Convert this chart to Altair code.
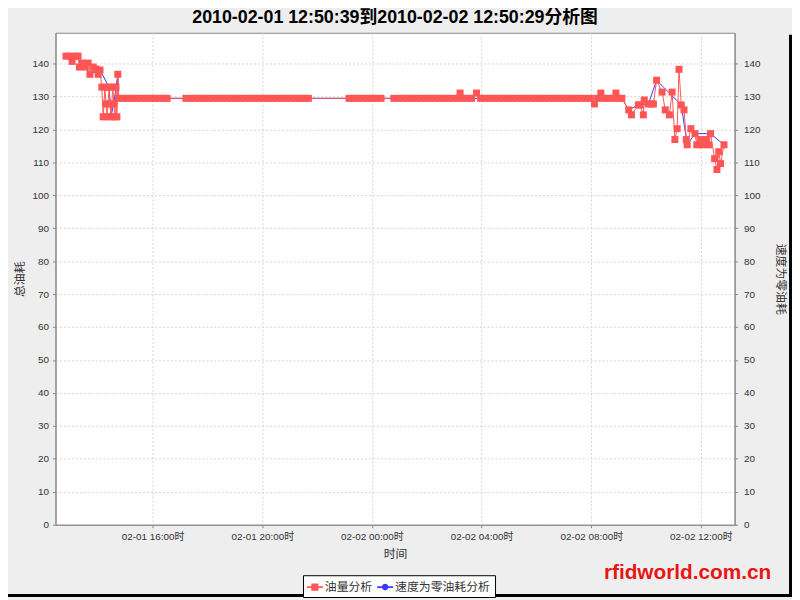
import altair as alt
import pandas as pd

TITLE = "2010-02-01 12:50:39到2010-02-02 12:50:29分析图"
SERIES = ["油量分析", "速度为零油耗分析"]
COLORS = ["#FF5555", "#3A3AFF"]
WATERMARK = "rfidworld.com.cn"

# ---- series 1: 油量分析 (time, value) ----
oil_time = [
    "2010-02-01T12:50:39", "2010-02-01T12:58:00", "2010-02-01T13:04:00", "2010-02-01T13:11:00",
    "2010-02-01T13:17:00", "2010-02-01T13:20:00", "2010-02-01T13:26:00", "2010-02-01T13:33:00",
    "2010-02-01T13:39:00", "2010-02-01T13:43:00", "2010-02-01T13:50:00", "2010-02-01T13:56:00",
    "2010-02-01T14:01:00", "2010-02-01T14:05:00", "2010-02-01T14:09:00", "2010-02-01T14:12:00",
    "2010-02-01T14:16:00", "2010-02-01T14:18:00", "2010-02-01T14:20:00", "2010-02-01T14:25:00",
    "2010-02-01T14:27:00", "2010-02-01T14:29:00", "2010-02-01T14:33:00", "2010-02-01T14:35:00",
    "2010-02-01T14:38:00", "2010-02-01T14:40:00", "2010-02-01T14:42:00", "2010-02-01T14:44:00",
    "2010-02-01T14:46:00", "2010-02-01T14:56:00", "2010-02-01T15:06:00", "2010-02-01T15:16:00",
    "2010-02-01T15:26:00", "2010-02-01T15:36:00", "2010-02-01T15:46:00", "2010-02-01T15:56:00",
    "2010-02-01T16:06:00", "2010-02-01T16:16:00", "2010-02-01T16:26:00", "2010-02-01T16:32:00",
    "2010-02-01T17:13:00", "2010-02-01T17:23:00", "2010-02-01T17:33:00", "2010-02-01T17:43:00",
    "2010-02-01T17:53:00", "2010-02-01T18:03:00", "2010-02-01T18:13:00", "2010-02-01T18:23:00",
    "2010-02-01T18:33:00", "2010-02-01T18:43:00", "2010-02-01T18:53:00", "2010-02-01T19:03:00",
    "2010-02-01T19:13:00", "2010-02-01T19:23:00", "2010-02-01T19:33:00", "2010-02-01T19:43:00",
    "2010-02-01T19:53:00", "2010-02-01T20:03:00", "2010-02-01T20:13:00", "2010-02-01T20:23:00",
    "2010-02-01T20:33:00", "2010-02-01T20:43:00", "2010-02-01T20:53:00", "2010-02-01T21:03:00",
    "2010-02-01T21:13:00", "2010-02-01T21:23:00", "2010-02-01T21:33:00", "2010-02-01T21:41:00",
    "2010-02-01T23:10:00", "2010-02-01T23:20:00", "2010-02-01T23:30:00", "2010-02-01T23:40:00",
    "2010-02-01T23:50:00", "2010-02-02T00:00:00", "2010-02-02T00:10:00", "2010-02-02T00:20:00",
    "2010-02-02T00:48:00", "2010-02-02T00:58:00", "2010-02-02T01:08:00", "2010-02-02T01:18:00",
    "2010-02-02T01:28:00", "2010-02-02T01:38:00", "2010-02-02T01:48:00", "2010-02-02T01:58:00",
    "2010-02-02T02:08:00", "2010-02-02T02:18:00", "2010-02-02T02:28:00", "2010-02-02T02:38:00",
    "2010-02-02T02:48:00", "2010-02-02T02:58:00", "2010-02-02T03:08:00", "2010-02-02T03:13:00",
    "2010-02-02T03:18:00", "2010-02-02T03:28:00", "2010-02-02T03:38:00", "2010-02-02T03:49:00",
    "2010-02-02T03:58:00", "2010-02-02T04:08:00", "2010-02-02T04:18:00", "2010-02-02T04:28:00",
    "2010-02-02T04:38:00", "2010-02-02T04:48:00", "2010-02-02T04:58:00", "2010-02-02T05:08:00",
    "2010-02-02T05:18:00", "2010-02-02T05:28:00", "2010-02-02T05:38:00", "2010-02-02T05:48:00",
    "2010-02-02T05:58:00", "2010-02-02T06:08:00", "2010-02-02T06:18:00", "2010-02-02T06:28:00",
    "2010-02-02T06:38:00", "2010-02-02T06:48:00", "2010-02-02T06:58:00", "2010-02-02T07:08:00",
    "2010-02-02T07:18:00", "2010-02-02T07:28:00", "2010-02-02T07:38:00", "2010-02-02T07:48:00",
    "2010-02-02T07:58:00", "2010-02-02T08:07:00", "2010-02-02T08:14:00", "2010-02-02T08:21:00",
    "2010-02-02T08:28:00", "2010-02-02T08:38:00", "2010-02-02T08:48:00", "2010-02-02T08:54:00",
    "2010-02-02T09:00:00", "2010-02-02T09:07:00", "2010-02-02T09:22:00", "2010-02-02T09:28:00",
    "2010-02-02T09:43:00", "2010-02-02T09:47:00", "2010-02-02T09:54:00", "2010-02-02T09:56:00",
    "2010-02-02T10:05:00", "2010-02-02T10:12:00", "2010-02-02T10:16:00", "2010-02-02T10:23:00",
    "2010-02-02T10:35:00", "2010-02-02T10:42:00", "2010-02-02T10:51:00", "2010-02-02T10:57:00",
    "2010-02-02T11:03:00", "2010-02-02T11:08:00", "2010-02-02T11:12:00", "2010-02-02T11:17:00",
    "2010-02-02T11:23:00", "2010-02-02T11:28:00", "2010-02-02T11:30:00", "2010-02-02T11:38:00",
    "2010-02-02T11:47:00", "2010-02-02T11:51:00", "2010-02-02T11:58:00", "2010-02-02T12:04:00",
    "2010-02-02T12:11:00", "2010-02-02T12:17:00", "2010-02-02T12:21:00", "2010-02-02T12:30:00",
    "2010-02-02T12:35:00", "2010-02-02T12:39:00", "2010-02-02T12:43:00", "2010-02-02T12:50:29",
]
oil_value = [
    142.2, 142.2, 140.6, 142.2, 142.2, 138.9, 140.1, 138.9,
    140.1, 136.7, 138.9, 138.3, 136.7, 138.0, 132.8, 123.8,
    132.8, 127.7, 123.8, 132.8, 127.7, 123.8, 132.8, 127.7,
    123.8, 132.8, 123.8, 136.7,
    129.4, 129.4, 129.4, 129.4, 129.4, 129.4, 129.4, 129.4,
    129.4, 129.4, 129.4, 129.4,
    129.4, 129.4, 129.4, 129.4, 129.4, 129.4, 129.4, 129.4,
    129.4, 129.4, 129.4, 129.4, 129.4, 129.4, 129.4, 129.4,
    129.4, 129.4, 129.4, 129.4, 129.4, 129.4, 129.4, 129.4,
    129.4, 129.4, 129.4, 129.4,
    129.4, 129.4, 129.4, 129.4, 129.4, 129.4, 129.4, 129.4,
    129.4, 129.4, 129.4, 129.4, 129.4, 129.4, 129.4, 129.4,
    129.4, 129.4, 129.4, 129.4, 129.4, 129.4, 129.4, 131.0,
    129.4, 129.4, 129.4, 131.0, 129.4, 129.4, 129.4, 129.4,
    129.4, 129.4, 129.4, 129.4, 129.4, 129.4, 129.4, 129.4,
    129.4, 129.4, 129.4, 129.4, 129.4, 129.4, 129.4, 129.4,
    129.4, 129.4, 129.4, 129.4, 129.4, 127.7, 129.4, 131.0,
    129.4, 129.4, 129.4, 131.0, 129.4, 129.4, 125.9, 124.4,
    127.4, 127.4, 124.4, 128.9, 127.7, 127.7, 127.7, 134.9,
    131.3, 125.9, 124.4, 131.3, 116.9, 120.2, 138.2, 127.4,
    125.9, 116.9, 115.3, 120.2, 118.7, 115.3, 116.9, 115.3,
    116.9, 115.3, 118.7, 111.1, 107.8, 113.2, 109.6, 115.3,
]

# ---- series 2: 速度为零油耗分析 (time, value) ----
zero_time = [
    "2010-02-01T12:50:39", "2010-02-01T13:17:00", "2010-02-01T13:43:00", "2010-02-01T14:05:00",
    "2010-02-01T14:25:00", "2010-02-01T14:29:00", "2010-02-01T14:35:00", "2010-02-01T14:44:00",
    "2010-02-01T14:46:00", "2010-02-01T15:26:00", "2010-02-01T16:06:00", "2010-02-01T16:32:00",
    "2010-02-01T17:13:00", "2010-02-01T18:13:00", "2010-02-01T19:13:00", "2010-02-01T20:13:00",
    "2010-02-01T21:13:00", "2010-02-01T21:41:00", "2010-02-01T23:10:00", "2010-02-02T00:00:00",
    "2010-02-02T00:20:00", "2010-02-02T00:48:00", "2010-02-02T02:08:00", "2010-02-02T03:28:00",
    "2010-02-02T04:48:00", "2010-02-02T06:08:00", "2010-02-02T07:28:00", "2010-02-02T08:38:00",
    "2010-02-02T09:07:00", "2010-02-02T09:22:00", "2010-02-02T09:43:00", "2010-02-02T10:05:00",
    "2010-02-02T10:23:00", "2010-02-02T11:17:00", "2010-02-02T11:30:00", "2010-02-02T11:47:00",
    "2010-02-02T12:21:00", "2010-02-02T12:50:29",
]
zero_value = [
    142.2, 142.2, 136.7, 138.0, 132.8, 123.8, 127.7, 136.7,
    129.4, 129.4, 129.4, 129.4, 129.4, 129.4, 129.4, 129.4,
    129.4, 129.4, 129.4, 129.4, 129.4, 129.4, 129.4, 129.4,
    129.4, 129.4, 129.4, 129.4, 129.4, 125.9, 127.4, 127.7,
    134.9, 127.4, 115.3, 118.7, 118.7, 115.3,
]

y_ticks = [0, 10, 20, 30, 40, 50, 60, 70, 80, 90, 100, 110, 120, 130, 140]
x_ticks = ["2010-02-01 16:00", "2010-02-01 20:00", "2010-02-02 00:00",
           "2010-02-02 04:00", "2010-02-02 08:00", "2010-02-02 12:00"]
x_domain = ["2010-02-01 12:27:40", "2010-02-02 13:13:40"]
y_domain = [0, 149.3]


def dt(s):
    t = pd.Timestamp(s)
    return alt.DateTime(year=t.year, month=t.month, date=t.day,
                        hours=t.hour, minutes=t.minute, seconds=t.second)


oil = pd.DataFrame({"t": oil_time, "v": oil_value, "s": SERIES[0]})
zero = pd.DataFrame({"t": zero_time, "v": zero_value, "s": SERIES[1]})
legend_df = pd.DataFrame({"t": ["2010-01-01T00:00:00"] * 2, "v": [50, 50], "s": SERIES})
mark_df = pd.DataFrame({"w": [WATERMARK]})
frame_df = pd.DataFrame({"k": [0]})

LAT = "Liberation Sans, Arial, Noto Sans CJK SC, sans-serif"
CJK = "Noto Sans CJK SC, Liberation Sans, sans-serif"

x_enc = alt.X(
    "t:T",
    scale=alt.Scale(domain=[dt(d) for d in x_domain]),
    axis=alt.Axis(values=[dt(d) for d in x_ticks], format="%m-%d %H:%M时",
                  formatType="time", title="时间", labelFont=LAT, labelFontSize=10,
                  tickSize=3, labelPadding=4, titlePadding=7, labelFlush=False,
                  labelOverlap=False, titleFont=CJK),
)
y_left = alt.Y(
    "v:Q",
    scale=alt.Scale(domain=y_domain, nice=False, zero=True),
    axis=alt.Axis(values=y_ticks, orient="left", title="总油耗", labelFontSize=10,
                  tickSize=3, labelPadding=4, titlePadding=6, titleFont=CJK),
)
y_right = alt.Y(
    "v:Q",
    scale=alt.Scale(domain=y_domain, nice=False, zero=True),
    axis=alt.Axis(values=y_ticks, orient="right", title="速度为零油耗", labelFontSize=10,
                  tickSize=3, labelPadding=6, titlePadding=14, grid=False,
                  titleAngle=90, titleFont=CJK),
)

SQ_PATH = "M-1,-0.1H1V0.1H-1Z M-0.45,-0.45H0.45V0.45H-0.45Z"
CI_PATH = "M-1,-0.1H1V0.1H-1Z M-0.42,0A0.42,0.42 0 1,1 0.42,0A0.42,0.42 0 1,1 -0.42,0Z"

zero_line = alt.Chart(zero).mark_line(color=COLORS[1], strokeWidth=1).encode(x=x_enc, y=y_left)
oil_line = alt.Chart(oil).mark_line(color=COLORS[0], strokeWidth=1).encode(x=x_enc, y=y_left)
zero_pts = alt.Chart(zero).mark_point(filled=True, shape="circle", size=30, opacity=1,
                                      color=COLORS[1]).encode(x=x_enc, y=y_left)
oil_pts = alt.Chart(oil).mark_point(filled=True, shape="square", size=50, opacity=1,
                                    color=COLORS[0]).encode(x=x_enc, y=y_left)
legend_layer = alt.Chart(legend_df).mark_point(filled=True, clip=True).encode(
    x=x_enc, y=y_left,
    color=alt.Color("s:N", scale=alt.Scale(domain=SERIES, range=COLORS),
                    legend=alt.Legend(title=None, orient="none", direction="horizontal",
                                      legendX=250, legendY=548)),
    shape=alt.Shape("s:N", scale=alt.Scale(domain=SERIES, range=[SQ_PATH, CI_PATH])),
)
watermark = alt.Chart(mark_df).mark_text(
    align="left", baseline="alphabetic", font="Liberation Sans",
    fontSize=21, fontWeight="bold", color="#E81515",
).encode(x=alt.value(554), y=alt.value(552), text="w:N")

# dark picture frame at the right and bottom edges
frame_right = alt.Chart(frame_df).mark_rule(color="black", strokeWidth=3).encode(
    x=alt.value(742.5), y=alt.value(2), y2=alt.value(570))
frame_bottom = alt.Chart(frame_df).mark_rule(color="black", strokeWidth=3).encode(
    x=alt.value(-48), x2=alt.value(744), y=alt.value(568.5))

main = alt.layer(zero_line, oil_line, zero_pts, oil_pts, legend_layer, watermark,
                 frame_right, frame_bottom)
right = alt.Chart(zero).mark_point(opacity=0).encode(x=x_enc, y=y_right)

chart = (
    alt.layer(main, right)
    .resolve_scale(y="independent")
    .properties(
        width=686, height=497,
        padding={"left": 48, "top": 22, "right": 58, "bottom": 73},
        autosize=alt.AutoSizeParams(type="none"),
        background="#EEEEEE",
        title=alt.TitleParams(TITLE, font=LAT, fontSize=18, fontWeight="bold",
                              color="black", anchor="middle", offset=6),
    )
    .configure_view(fill="white", stroke="#888888", strokeWidth=1)
    .configure_axis(
        domainColor="#888888", tickColor="#888888", labelColor="#333333",
        labelFont=LAT, titleColor="#333333", titleFontSize=12, titleFontWeight="normal",
        gridColor="#D4D4D4", gridDash=[2, 2], gridWidth=1,
    )
    .configure_legend(
        fillColor="white", strokeColor="black", strokeWidth=1, padding=4,
        labelFont=CJK, labelFontSize=12, labelColor="#333333", labelOffset=2,
        symbolSize=256, symbolStrokeWidth=0, symbolOpacity=1, columnPadding=4,
        labelLimit=300, cornerRadius=0,
    )
)

chart.save("out.html", embed_options={"renderer": "svg", "actions": False})
